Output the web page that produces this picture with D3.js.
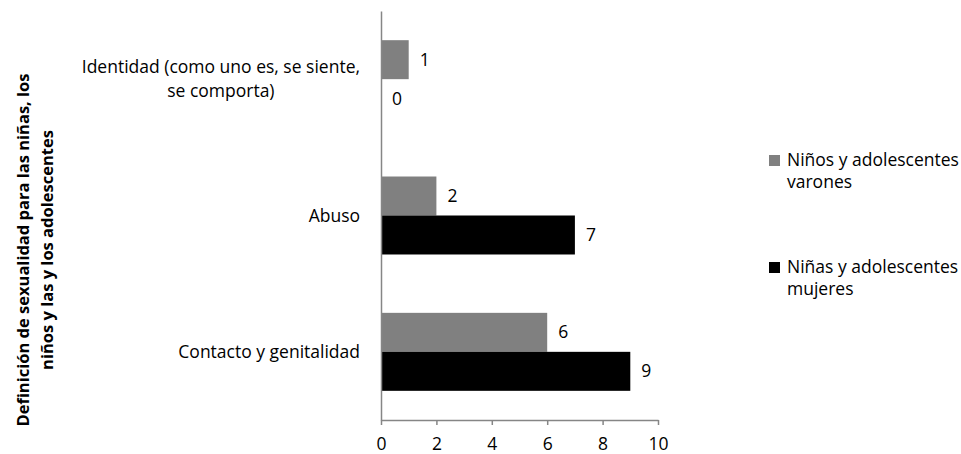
<!DOCTYPE html>
<html>
<head>
<meta charset="utf-8">
<script src="https://cdn.jsdelivr.net/npm/d3@7"></script>
<style>
  html, body { margin: 0; padding: 0; background: #fff; }
  svg { display: block; font-family: "Open Sans", "Noto Sans", sans-serif; }
</style>
</head>
<body>
<svg id="chart" width="961" height="454"></svg>
<script>
// ---- data ----
const categories = ["Identidad (como uno es, se siente, se comporta)", "Abuso", "Contacto y genitalidad"];
const seriesNames = ["Niños y adolescentes varones", "Niñas y adolescentes mujeres"];
const varones = [1, 2, 6];
const mujeres = [0, 7, 9];
const xTickValues = [0, 2, 4, 6, 8, 10];
const axisTitleLines = ["Definición de sexualidad para las niñas, los", "niños y las y los adolescentes"];
const legendLines = [["Niños y adolescentes", "varones"], ["Niñas y adolescentes", "mujeres"]];
const seriesColors = ["#808080", "#000000"];

// ---- layout ----
const svg = d3.select("#chart");
const plot = { left: 381, right: 658, top: 11, bottom: 420 };
const fontSize = 17.5;
const fontFam = '"Open Sans", "Noto Sans", sans-serif';

const x = d3.scaleLinear().domain([0, 10]).range([plot.left, plot.right]);
const y = d3.scaleBand().domain(categories).range([plot.top, plot.bottom])
  .paddingInner(0.428).paddingOuter(0.214);
const sub = d3.scaleBand().domain([0, 1]).range([0, y.bandwidth()]);

const seriesData = [varones, mujeres];

// bars
seriesData.forEach((vals, si) => {
  svg.append("g").selectAll("rect").data(vals).join("rect")
    .attr("x", x(0))
    .attr("y", (d, i) => y(categories[i]) + sub(si))
    .attr("width", d => x(d) - x(0))
    .attr("height", sub.bandwidth())
    .attr("fill", seriesColors[si]);
  // value labels
  svg.append("g").selectAll("text").data(vals).join("text")
    .attr("x", d => x(d) + 11)
    .attr("y", (d, i) => y(categories[i]) + sub(si) + sub.bandwidth() / 2)
    .attr("dy", "0.35em")
    .attr("font-size", fontSize)
    .attr("fill", "#000")
    .text(d => d);
});

// x axis
const xAxis = d3.axisBottom(x).tickValues(xTickValues).tickSize(5).tickSizeOuter(0).tickPadding(13);
const gx = svg.append("g").attr("transform", `translate(0,${plot.bottom})`).call(xAxis);
gx.select(".domain").attr("stroke", "#868686").attr("stroke-width", 1.5);
gx.selectAll(".tick line").attr("stroke", "#868686").attr("stroke-width", 1.5);
gx.selectAll(".tick text").attr("font-size", fontSize).attr("font-family", fontFam).attr("fill", "#000");

// y axis line
const yAxis = d3.axisLeft(y).tickSize(0).tickFormat("");
const gy = svg.append("g").attr("transform", `translate(${plot.left},0)`).call(yAxis);
gy.select(".domain").attr("stroke", "#868686").attr("stroke-width", 1.5);

// category labels with wrapping
const wrapWidth = 292;
const labelRight = 360;
const lineH = 24;
const measure = svg.append("text").attr("font-size", fontSize).attr("visibility", "hidden");
function textW(s) { measure.text(s); return measure.node().getComputedTextLength(); }
categories.forEach(cat => {
  const words = cat.split(" ");
  const lines = [];
  let cur = "";
  words.forEach(w => {
    const t = cur ? cur + " " + w : w;
    if (textW(t) > wrapWidth && cur) { lines.push(cur); cur = w; } else cur = t;
  });
  lines.push(cur);
  const blockW = d3.max(lines, textW);
  const cx = labelRight - blockW / 2;
  const cy = y(cat) + y.bandwidth() / 2;
  const t = svg.append("text").attr("font-size", fontSize).attr("fill", "#000").attr("text-anchor", "middle");
  lines.forEach((l, i) => {
    t.append("tspan").attr("x", cx)
      .attr("y", cy + (i - (lines.length - 1) / 2) * lineH)
      .attr("dy", "0.35em").text(l);
  });
});
measure.remove();

// axis title (rotated, bold)
const title = svg.append("text")
  .attr("transform", "translate(0,250) rotate(-90)")
  .attr("font-size", 16.5).attr("font-weight", "bold").attr("fill", "#000")
  .attr("text-anchor", "middle");
axisTitleLines.forEach((l, i) => {
  title.append("tspan").attr("x", 0).attr("y", 29 + i * 24).text(l);
});

// legend
const legendY = [166, 273];
const lg = svg.append("g");
seriesNames.forEach((name, si) => {
  const g = lg.append("g");
  g.append("rect").attr("x", 769).attr("y", legendY[si] - 11).attr("width", 11).attr("height", 11)
    .attr("fill", seriesColors[si]);
  const t = g.append("text").attr("font-size", fontSize).attr("fill", "#000");
  legendLines[si].forEach((l, i) => {
    t.append("tspan").attr("x", 787).attr("y", legendY[si] + i * 22).text(l);
  });
  g.append("title").text(name);
});
</script>
</body>
</html>
